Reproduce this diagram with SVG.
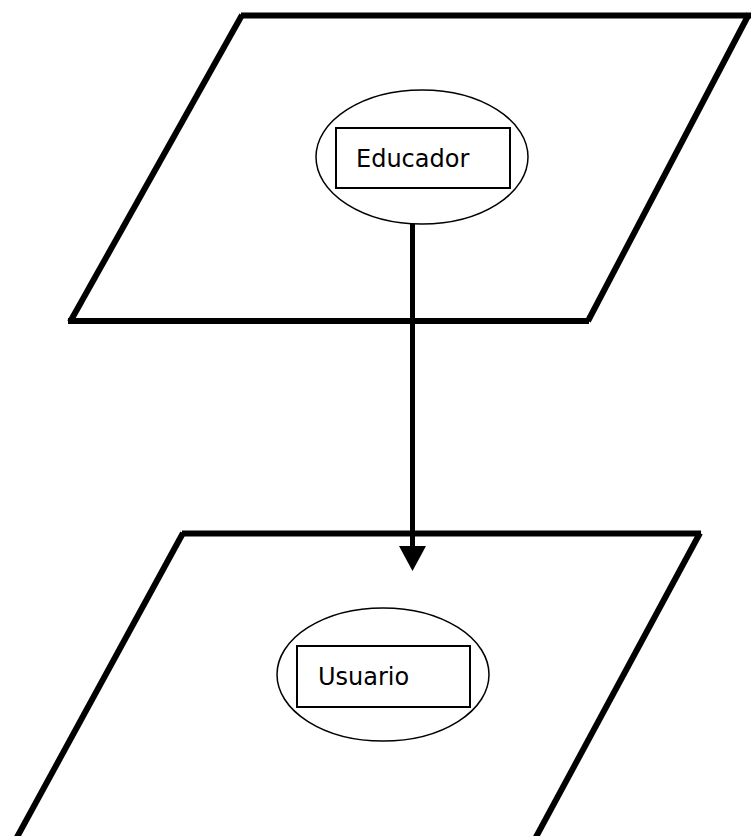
<svg xmlns="http://www.w3.org/2000/svg" width="751" height="836" viewBox="0 0 751 836">
<style>
.plane{stroke:#000;stroke-width:6;fill:none;stroke-linecap:butt}
.oval{stroke:#000;stroke-width:1.5;fill:none}
.box{stroke:#000;stroke-width:2;fill:none}
.lbl{font-family:"DejaVu Sans",Verdana,sans-serif;font-size:24px;fill:#000}
.conn{stroke:#000;stroke-width:5;fill:none}
</style>
<rect width="751" height="836" fill="#fff"/>
<g id="plane-top">
<line class="plane" x1="241" y1="15.5" x2="751" y2="15.5"/>
<line class="plane" x1="749" y1="14" x2="588" y2="321"/>
<line class="plane" x1="68" y1="321" x2="589" y2="321"/>
<line class="plane" x1="70" y1="322" x2="242" y2="15"/>
</g>
<g id="plane-bottom">
<line class="plane" x1="182" y1="533.5" x2="701" y2="533.5"/>
<line class="plane" x1="700" y1="533" x2="529" y2="850"/>
<line class="plane" x1="183" y1="533" x2="10" y2="850"/>
</g>
<g id="educador">
<ellipse class="oval" cx="422" cy="157" rx="106" ry="67"/>
<rect class="box" x="336" y="128" width="174" height="60"/>
<text class="lbl" x="356" y="167">Educador</text>
</g>
<g id="usuario">
<ellipse class="oval" cx="383" cy="674.5" rx="106" ry="66.5"/>
<rect class="box" x="297" y="646" width="173" height="61"/>
<text class="lbl" x="318" y="685">Usuario</text>
</g>
<g id="connectors">
<line class="conn" x1="412.5" y1="224" x2="412.5" y2="548"/>
<path d="M399,546 L426,546 L412.5,571 Z" fill="#000"/>
</g>
</svg>
